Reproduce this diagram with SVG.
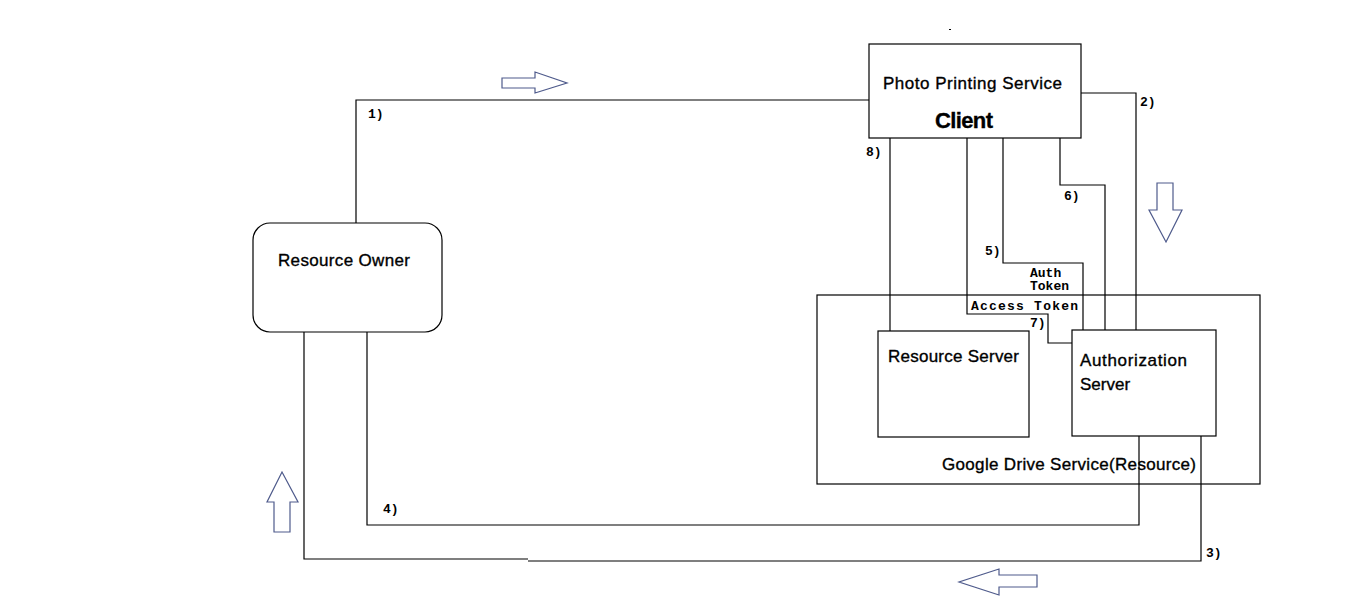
<svg xmlns="http://www.w3.org/2000/svg" width="1360" height="602" viewBox="0 0 1360 602">
<style>
.box{fill:#fff;stroke:#000;stroke-width:1.2}
.ln{fill:none;stroke:#000;stroke-width:1.2}
.t{font-family:"Liberation Sans",Arial,sans-serif;font-size:17px;fill:#000;stroke:#000;stroke-width:0.35}
.lb{font-family:"Liberation Mono","Courier New",monospace;font-size:13px;font-weight:bold;fill:#000}
.ar{fill:#fff;stroke:#4f5b8c;stroke-width:1.2}
</style>
<rect width="1360" height="602" fill="#fff"/>
<g id="connectors">
<path class="ln" d="M356,223 V100 H869"/>
<path class="ln" d="M1081,93 H1136 V331"/>
<path class="ln" d="M890,138 V331"/>
<path class="ln" d="M967,138 V314 H1048 V343 H1073"/>
<path class="ln" d="M1003,138 V263 H1083 V331"/>
<path class="ln" d="M1060,138 V185 H1105 V331"/>
<path class="ln" d="M367,332 V525 H1139 V436"/>
<path class="ln" d="M1201,436 V561 H528 M528,559 H304 V332"/>
<text class="lb" x="368" y="118">1)</text>
<text class="lb" x="1140" y="106">2)</text>
<text class="lb" x="1206" y="557">3)</text>
<text class="lb" x="383" y="513">4)</text>
<text class="lb" x="985" y="255">5)</text>
<text class="lb" x="1064" y="200">6)</text>
<text class="lb" x="1030" y="327">7)</text>
<text class="lb" x="866" y="156">8)</text>
<text class="lb" x="1030" y="277">Auth</text>
<text class="lb" x="1030" y="290">Token</text>
<text class="lb" x="971" y="310" textLength="107">Access Token</text>
</g>
<g id="arrows">
<path class="ar" d="M502,78 H535 V72 L567,83 L535,93 V88 H502 Z"/>
<path class="ar" d="M1157,183 H1173 V210 H1182 L1166,242 L1149,210 H1157 Z"/>
<path class="ar" d="M1037,575 H999 V569 L959,582 L999,595 V587 H1037 Z"/>
<path class="ar" d="M274,532 V502 H267 L282,472 L298,502 H290 V532 Z"/>
</g>
<g id="client">
<rect class="box" x="869" y="44" width="212" height="94"/>
<text class="t" x="883" y="89" textLength="179">Photo Printing Service</text>
<text class="t" x="935" y="128" style="font-size:22px;font-weight:bold" textLength="58">Client</text>
</g>
<g id="resource-owner">
<rect class="box" x="253" y="223" width="189" height="109" rx="17"/>
<text class="t" x="278" y="266" textLength="132">Resource Owner</text>
</g>
<g id="google-drive">
<rect class="ln" x="817" y="295" width="443" height="189"/>
<text class="t" x="942" y="470" textLength="254">Google Drive Service(Resource)</text>
</g>
<g id="resource-server">
<rect class="box" x="878" y="331" width="151" height="106"/>
<text class="t" x="888" y="362" textLength="131">Resource Server</text>
</g>
<g id="authorization-server">
<rect class="box" x="1072" y="330" width="144" height="106"/>
<text class="t" x="1080" y="366" textLength="107">Authorization</text>
<text class="t" x="1080" y="390">Server</text>
</g>
<rect x="949" y="29" width="2" height="1" fill="#000"/>
</svg>
